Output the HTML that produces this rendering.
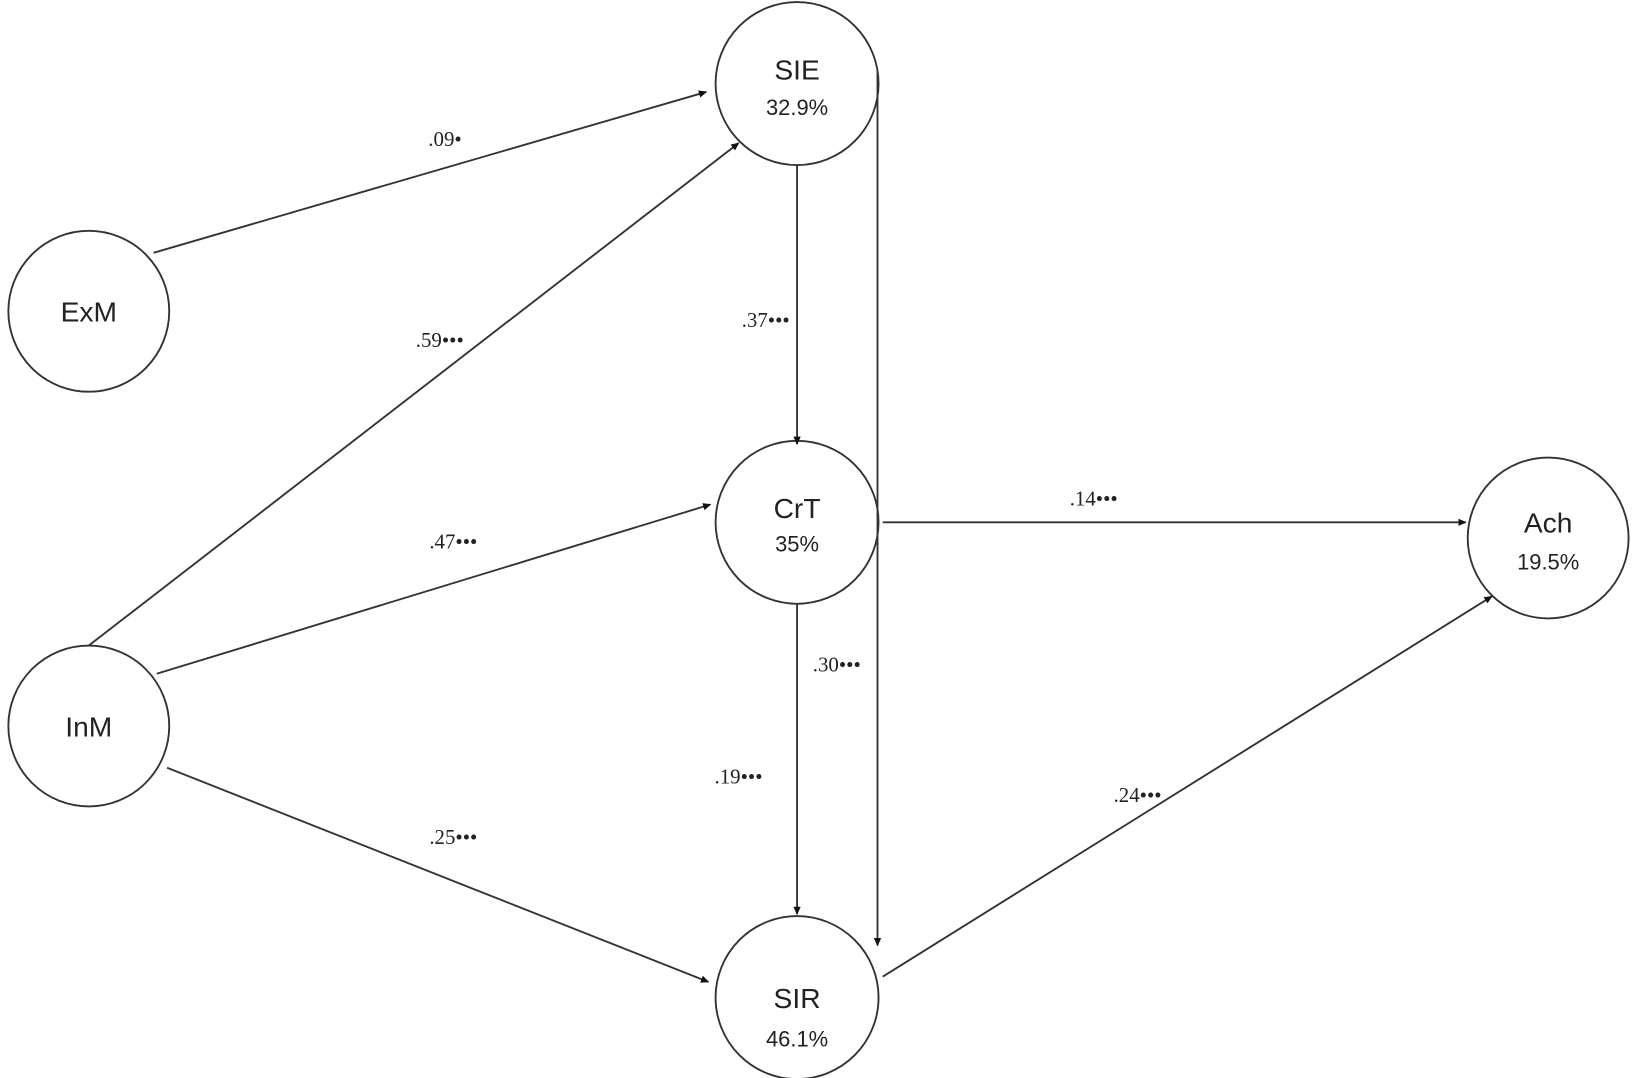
<!DOCTYPE html>
<html><head><style>
html,body{margin:0;padding:0;background:#fff;}
svg{display:block;}
text{font-family:"Liberation Sans",sans-serif;fill:#222;}
.n{font-size:27px;}
.p{font-size:21px;}
.l{font-size:20px;font-family:"Liberation Serif",serif;}
</style></head><body>
<svg width="1638" height="1078" viewBox="0 0 1568 1032" preserveAspectRatio="none">
<defs><marker id="a" markerWidth="8" markerHeight="8" refX="7" refY="4" orient="auto" markerUnits="userSpaceOnUse"><path d="M0,0.5 L8,4 L0,7.5 z" fill="#111"/></marker></defs>
<g stroke="#333" stroke-width="1.8" fill="#fff">
<circle cx="763" cy="80" r="78"/>
<circle cx="85" cy="298" r="77"/>
<circle cx="85" cy="695" r="77"/>
<circle cx="763" cy="500" r="78"/>
<circle cx="763" cy="955" r="78"/>
<circle cx="1482" cy="515" r="77"/>
</g>
<g stroke="#333" stroke-width="1.8" fill="none" marker-end="url(#a)">
<line x1="147" y1="242" x2="676" y2="88"/>
<line x1="85" y1="618" x2="707" y2="137"/>
<line x1="150" y1="645" x2="680" y2="483"/>
<line x1="160" y1="735" x2="678" y2="940"/>
<line x1="763" y1="158" x2="763" y2="425"/>
<polyline points="840,68 840,905"/>
<line x1="763" y1="578" x2="763" y2="875"/>
<line x1="845" y1="500" x2="1403" y2="500"/>
<line x1="845" y1="935" x2="1428" y2="571"/>
</g>
<g text-anchor="middle">
<text class="n" x="763" y="76">SIE</text><text class="p" x="763" y="110">32.9%</text>
<text class="n" x="85" y="308">ExM</text>
<text class="n" x="85" y="705">InM</text>
<text class="n" x="763" y="496">CrT</text><text class="p" x="763" y="528">35%</text>
<text class="n" x="763" y="965">SIR</text><text class="p" x="763" y="1002">46.1%</text>
<text class="n" x="1482" y="510">Ach</text><text class="p" x="1482" y="545">19.5%</text>
</g>
<g>
<text class="l" x="410" y="140">.09•</text>
<text class="l" x="398" y="332">.59•••</text>
<text class="l" x="710" y="313">.37•••</text>
<text class="l" x="411" y="525">.47•••</text>
<text class="l" x="1024" y="484">.14•••</text>
<text class="l" x="778" y="643">.30•••</text>
<text class="l" x="684" y="750">.19•••</text>
<text class="l" x="411" y="808">.25•••</text>
<text class="l" x="1066" y="768">.24•••</text>
</g>
</svg>
</body></html>
